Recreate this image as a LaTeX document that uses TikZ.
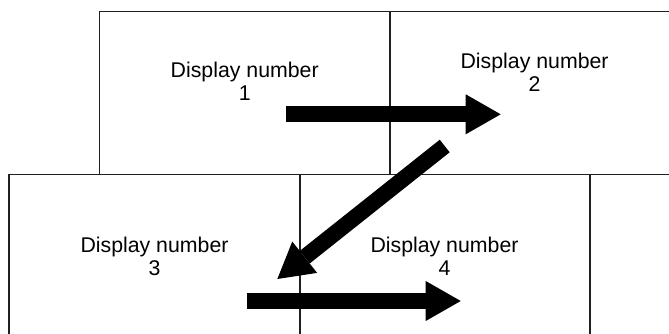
\documentclass[tikz,border=0pt]{standalone}
\usepackage{fontspec}
\setmainfont{Liberation Sans}
\usetikzlibrary{arrows.meta}
\definecolor{frame}{HTML}{231F20}
\begin{document}
\begin{tikzpicture}[x=1pt,y=-1pt,
  panel/.style={draw=frame, line width=1.3pt, inner sep=0pt, outer sep=0pt, anchor=north west},
  label/.style={anchor=base, align=center, font=\fontsize{21.3}{23.4}\selectfont, inner sep=0pt, text=black},
  bigarrow/.style={line width=16pt, black, -{Triangle[width=40pt,length=35pt,line width=0pt]}}]
\useasboundingbox (0,0) rectangle (669,333);
\clip (0,0) rectangle (669,333);
% display panels
\node[panel, minimum width=290.5pt, minimum height=163pt] (d1) at (99.5,11.5) {};
\node[panel, minimum width=310pt, minimum height=163pt] (d2) at (390,11.5) {};
\node[panel, minimum width=291pt, minimum height=185.5pt] (d3) at (9,174.5) {};
\node[panel, minimum width=290pt, minimum height=185.5pt] (d4) at (300,174.5) {};
\node[panel, minimum width=110pt, minimum height=185.5pt] (d5) at (590,174.5) {};
% labels (anchor = baseline of the last line)
\node[label] (t1) at (244.7,100.7) {Display number\\1};
\node[label] (t2) at (534.6,91.7) {Display number\\2};
\node[label] (t3) at (154.5,275.9) {Display number\\3};
\node[label] (t4) at (444.5,275.9) {Display number\\4};
% arrows
\coordinate (a1s) at (286,114.3);
\coordinate (a1e) at (500.7,114.3);
\coordinate (a2s) at (444.7,146);
\coordinate (a2e) at (277.3,279);
\coordinate (a3s) at (246.6,301);
\coordinate (a3e) at (460.7,301);
\draw[bigarrow] (a1s) -- (a1e);
\draw[bigarrow] (a2s) -- (a2e);
\draw[bigarrow] (a3s) -- (a3e);
\end{tikzpicture}
\end{document}
